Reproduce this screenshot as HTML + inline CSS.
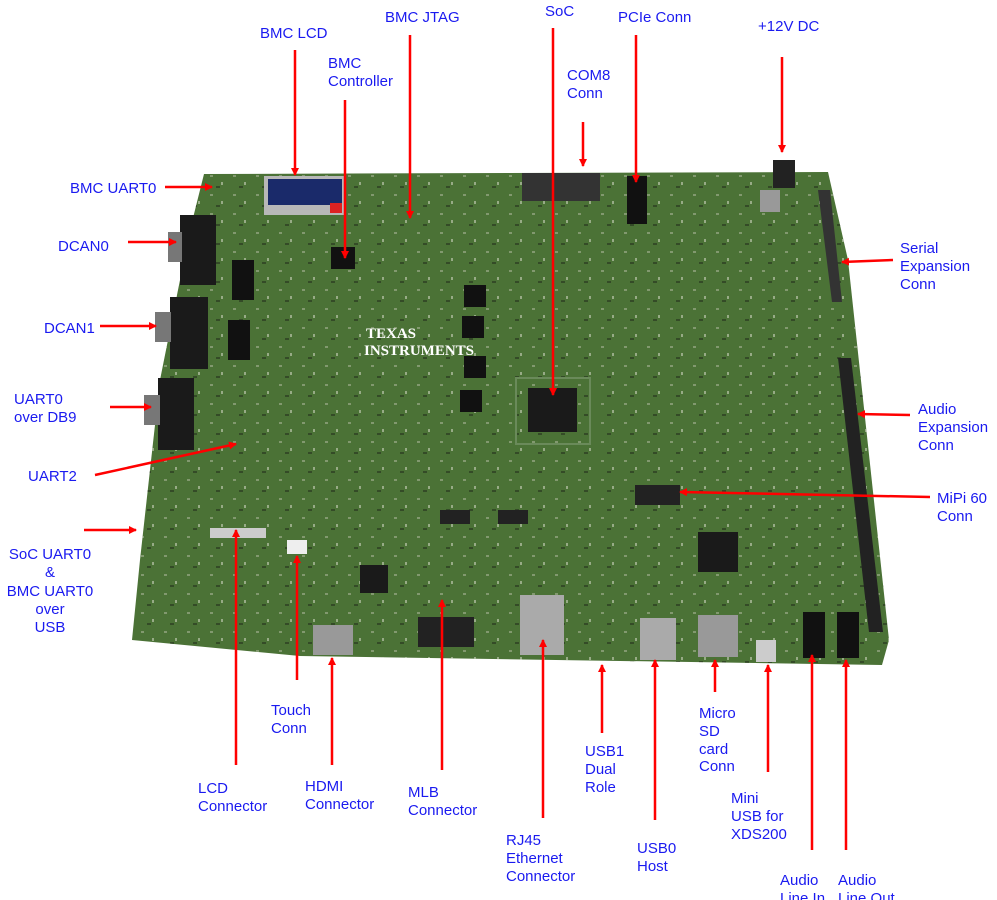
<!DOCTYPE html>
<html><head><meta charset="utf-8"><style>
html,body{margin:0;padding:0;background:#fff;width:997px;height:900px;overflow:hidden}
svg{display:block}
text{font-family:"Liberation Sans",sans-serif;font-size:15px;fill:#1a1af0}
</style></head><body>
<svg width="997" height="900" viewBox="0 0 997 900">
<defs>
<marker id="a" markerWidth="8" markerHeight="8" refX="7" refY="4" orient="auto" markerUnits="userSpaceOnUse"><path d="M0,0 L8,4 L0,8 Z" fill="#f00"/></marker>
<pattern id="p" width="23" height="19" patternUnits="userSpaceOnUse">
<rect x="3" y="4" width="3" height="2" fill="#9aaa88"/>
<rect x="14" y="11" width="2" height="3" fill="#b8c4a8"/>
<rect x="9" y="15" width="4" height="2" fill="#2a3a20"/>
</pattern>
</defs>
<polygon points="204,174 828,172 848,260 889,640 882,665 300,656 132,640 140,560 160,380 190,230" fill="#4b7236"/>
<polygon points="204,174 828,172 848,260 889,640 882,665 300,656 132,640 140,560 160,380 190,230" fill="url(#p)" opacity="0.7"/>
<rect x="264" y="176" width="82" height="39" fill="#b8b8b8"/>
<rect x="268" y="179" width="74" height="26" fill="#1a2a6a"/>
<rect x="330" y="203" width="12" height="10" fill="#d22"/>
<polygon points="818,190 830,190 842,302 832,302" fill="#333"/>
<polygon points="838,358 851,358 883,632 869,632" fill="#222"/>
<rect x="180" y="215" width="36" height="70" fill="#1a1a1a"/>
<rect x="168" y="232" width="14" height="30" fill="#777"/>
<rect x="170" y="297" width="38" height="72" fill="#1a1a1a"/>
<rect x="155" y="312" width="16" height="30" fill="#777"/>
<rect x="158" y="378" width="36" height="72" fill="#1a1a1a"/>
<rect x="144" y="395" width="16" height="30" fill="#777"/>
<rect x="522" y="173" width="78" height="28" fill="#333"/>
<rect x="627" y="176" width="20" height="48" fill="#111"/>
<rect x="773" y="160" width="22" height="28" fill="#222"/>
<rect x="760" y="190" width="20" height="22" fill="#999"/>
<rect x="528" y="388" width="49" height="44" fill="#1a1a1a"/>
<rect x="516" y="378" width="74" height="66" fill="none" stroke="#6a8a5a" stroke-width="2"/>
<rect x="331" y="247" width="24" height="22" fill="#111"/>
<rect x="464" y="356" width="22" height="22" fill="#111"/>
<rect x="462" y="316" width="22" height="22" fill="#111"/>
<rect x="464" y="285" width="22" height="22" fill="#111"/>
<rect x="460" y="390" width="22" height="22" fill="#111"/>
<rect x="698" y="532" width="40" height="40" fill="#1a1a1a"/>
<rect x="360" y="565" width="28" height="28" fill="#1a1a1a"/>
<rect x="232" y="260" width="22" height="40" fill="#111"/>
<rect x="228" y="320" width="22" height="40" fill="#111"/>
<rect x="635" y="485" width="45" height="20" fill="#222"/>
<rect x="440" y="510" width="30" height="14" fill="#222"/>
<rect x="498" y="510" width="30" height="14" fill="#222"/>
<rect x="210" y="528" width="56" height="10" fill="#ccc"/>
<rect x="287" y="540" width="20" height="14" fill="#eee"/>
<rect x="313" y="625" width="40" height="30" fill="#999"/>
<rect x="418" y="617" width="56" height="30" fill="#222"/>
<rect x="520" y="595" width="44" height="60" fill="#aaa"/>
<rect x="640" y="618" width="36" height="42" fill="#aaa"/>
<rect x="698" y="615" width="40" height="42" fill="#999"/>
<rect x="756" y="640" width="20" height="22" fill="#ccc"/>
<rect x="803" y="612" width="22" height="46" fill="#111"/>
<rect x="837" y="612" width="22" height="46" fill="#111"/>
<text x="366" y="338" style="fill:#fff;font-size:15px;font-weight:bold;font-family:'Liberation Serif',serif">TEXAS</text>
<text x="364" y="355" style="fill:#fff;font-size:15px;font-weight:bold;font-family:'Liberation Serif',serif">INSTRUMENTS</text>
<g stroke="#f00" stroke-width="2.5" fill="none" marker-end="url(#a)">
<line x1="295" y1="50" x2="295" y2="175"/>
<line x1="345" y1="100" x2="345" y2="258"/>
<line x1="410" y1="35" x2="410" y2="218"/>
<line x1="553" y1="28" x2="553" y2="395"/>
<line x1="583" y1="122" x2="583" y2="166"/>
<line x1="636" y1="35" x2="636" y2="182"/>
<line x1="782" y1="57" x2="782" y2="152"/>
<line x1="165" y1="187" x2="212" y2="187"/>
<line x1="128" y1="242" x2="176" y2="242"/>
<line x1="100" y1="326" x2="156" y2="326"/>
<line x1="110" y1="407" x2="151" y2="407"/>
<line x1="95" y1="475" x2="236" y2="444"/>
<line x1="84" y1="530" x2="136" y2="530"/>
<line x1="893" y1="260" x2="842" y2="262"/>
<line x1="910" y1="415" x2="858" y2="414"/>
<line x1="930" y1="497" x2="680" y2="492"/>
<line x1="236" y1="765" x2="236" y2="530"/>
<line x1="297" y1="680" x2="297" y2="556"/>
<line x1="332" y1="765" x2="332" y2="658"/>
<line x1="442" y1="770" x2="442" y2="600"/>
<line x1="543" y1="818" x2="543" y2="640"/>
<line x1="602" y1="733" x2="602" y2="665"/>
<line x1="655" y1="820" x2="655" y2="660"/>
<line x1="715" y1="692" x2="715" y2="660"/>
<line x1="768" y1="772" x2="768" y2="665"/>
<line x1="812" y1="850" x2="812" y2="655"/>
<line x1="846" y1="850" x2="846" y2="660"/>
</g>
<text x="260" y="38">BMC LCD</text>
<text x="328" y="68">BMC</text><text x="328" y="86">Controller</text>
<text x="385" y="22">BMC JTAG</text>
<text x="545" y="16">SoC</text>
<text x="567" y="80">COM8</text><text x="567" y="98">Conn</text>
<text x="618" y="22">PCIe Conn</text>
<text x="758" y="31">+12V DC</text>
<text x="70" y="193">BMC UART0</text>
<text x="58" y="251">DCAN0</text>
<text x="44" y="333">DCAN1</text>
<text x="14" y="404">UART0</text><text x="14" y="422">over DB9</text>
<text x="28" y="481">UART2</text>
<g text-anchor="middle"><text x="50" y="559">SoC UART0</text><text x="50" y="577">&amp;</text><text x="50" y="596">BMC UART0</text><text x="50" y="614">over</text><text x="50" y="632">USB</text></g>
<text x="900" y="253">Serial</text><text x="900" y="271">Expansion</text><text x="900" y="289">Conn</text>
<text x="918" y="414">Audio</text><text x="918" y="432">Expansion</text><text x="918" y="450">Conn</text>
<text x="937" y="503">MiPi 60</text><text x="937" y="521">Conn</text>
<text x="198" y="793">LCD</text><text x="198" y="811">Connector</text>
<text x="271" y="715">Touch</text><text x="271" y="733">Conn</text>
<text x="305" y="791">HDMI</text><text x="305" y="809">Connector</text>
<text x="408" y="797">MLB</text><text x="408" y="815">Connector</text>
<text x="506" y="845">RJ45</text><text x="506" y="863">Ethernet</text><text x="506" y="881">Connector</text>
<text x="585" y="756">USB1</text><text x="585" y="774">Dual</text><text x="585" y="792">Role</text>
<text x="637" y="853">USB0</text><text x="637" y="871">Host</text>
<text x="699" y="718">Micro</text><text x="699" y="736">SD</text><text x="699" y="754">card</text><text x="699" y="771">Conn</text>
<text x="731" y="803">Mini</text><text x="731" y="821">USB for</text><text x="731" y="839">XDS200</text>
<text x="780" y="885">Audio</text><text x="780" y="903">Line In</text>
<text x="838" y="885">Audio</text><text x="838" y="903">Line Out</text>
</svg>
</body></html>
